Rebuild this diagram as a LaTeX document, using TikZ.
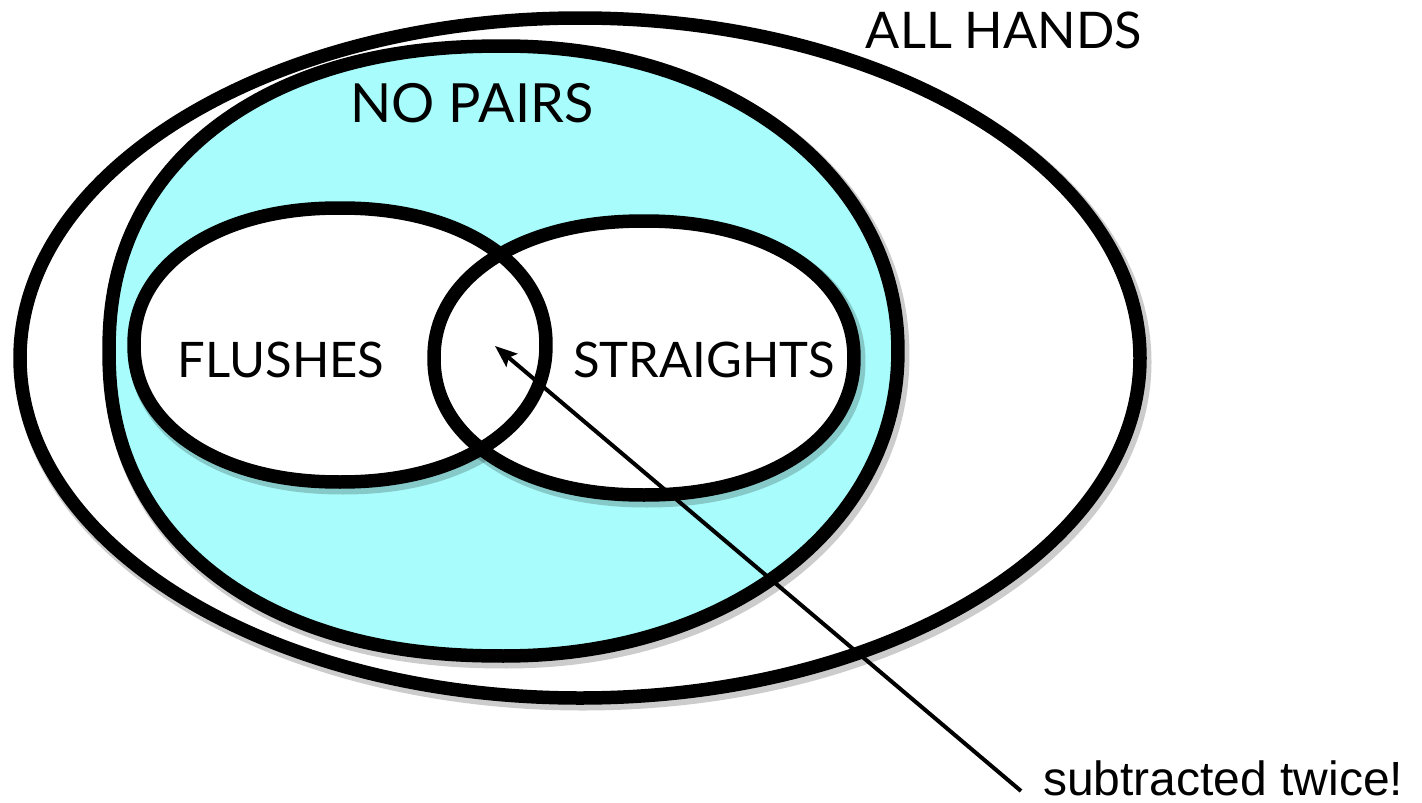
\documentclass[tikz,border=0pt]{standalone}
\usepackage{fontspec}
\setmainfont{Lato}
\newfontfamily\arialfont{Liberation Sans}
\usetikzlibrary{arrows.meta}
\definecolor{nopaircyan}{RGB}{168,252,252}
% rounded oval: centre (#1,#2), half axes #3,#4, shape exponents left #5 / right #6
\newcommand\roundoval[6]{plot[domain=-90:90, samples=120, variable=\t]
  ({#1+#3*cos(\t)*pow(abs(cos(\t))+0.00001,#6-1)},{#2+#4*sin(\t)*pow(abs(sin(\t))+0.00001,#6-1)})
  -- plot[domain=90:270, samples=120, variable=\t]
  ({#1+#3*cos(\t)*pow(abs(cos(\t))+0.00001,#5-1)},{#2+#4*sin(\t)*pow(abs(sin(\t))+0.00001,#5-1)})
  -- cycle}
\begin{document}
\begin{tikzpicture}[x=1pt,y=-1pt,
  ring/.style={draw=black, line width=13.5pt, line join=round},
  ringshadow/.style={draw=black, draw opacity=0.2, line width=17pt, line join=round},
  setlabel/.style={font=\fontsize{49}{55}\selectfont, inner sep=0pt, anchor=base},
  note/.style={font=\arialfont\fontsize{48}{54}\selectfont, inner sep=0pt, anchor=base west},
  pointer/.style={draw=black, line width=4pt, -{Stealth[length=22pt, width=17pt, inset=4pt]}}]
\useasboundingbox (0,0) rectangle (1422,803);
% ALL HANDS
\path[ringshadow] (583,362) ellipse [x radius=560pt, y radius=340pt];
\path[fill=white] (580,358) ellipse [x radius=560pt, y radius=340pt];
\path[ring] (580,358) ellipse [x radius=560pt, y radius=340pt];
% NO PAIRS
\path[ringshadow] \roundoval{506.5}{355}{394.5}{305}{0.9}{0.97};
\path[ring, fill=nopaircyan] \roundoval{503.5}{351}{394.5}{305}{0.9}{0.97};
% FLUSHES and STRAIGHTS
\path[ringshadow] \roundoval{343}{349}{206}{137}{0.94}{0.94};
\path[ringshadow] \roundoval{647}{362}{210}{137}{0.94}{0.94};
\path[fill=white] \roundoval{340}{345}{206}{137}{0.94}{0.94};
\path[fill=white] \roundoval{644}{358}{210}{137}{0.94}{0.94};
\path[ring] \roundoval{340}{345}{206}{137}{0.94}{0.94};
\path[ring] \roundoval{644}{358}{210}{137}{0.94}{0.94};
% labels
\node[setlabel, font=\fontsize{50.5}{56}\selectfont] (allhands) at (1004,48) {ALL HANDS};
\node[setlabel, font=\fontsize{54}{60}\selectfont] (nopairs) at (472,122) {NO PAIRS};
\node[setlabel] (flushes) at (281,377) {FLUSHES};
\node[setlabel] (straights) at (704,377) {STRAIGHTS};
\node[note] (twice) at (1043,795) {subtracted twice!};
% arrow
\coordinate (tail) at (1021,791);
\coordinate (tip) at (495,346);
\draw[pointer] (tail) -- (tip);
\end{tikzpicture}
\end{document}
